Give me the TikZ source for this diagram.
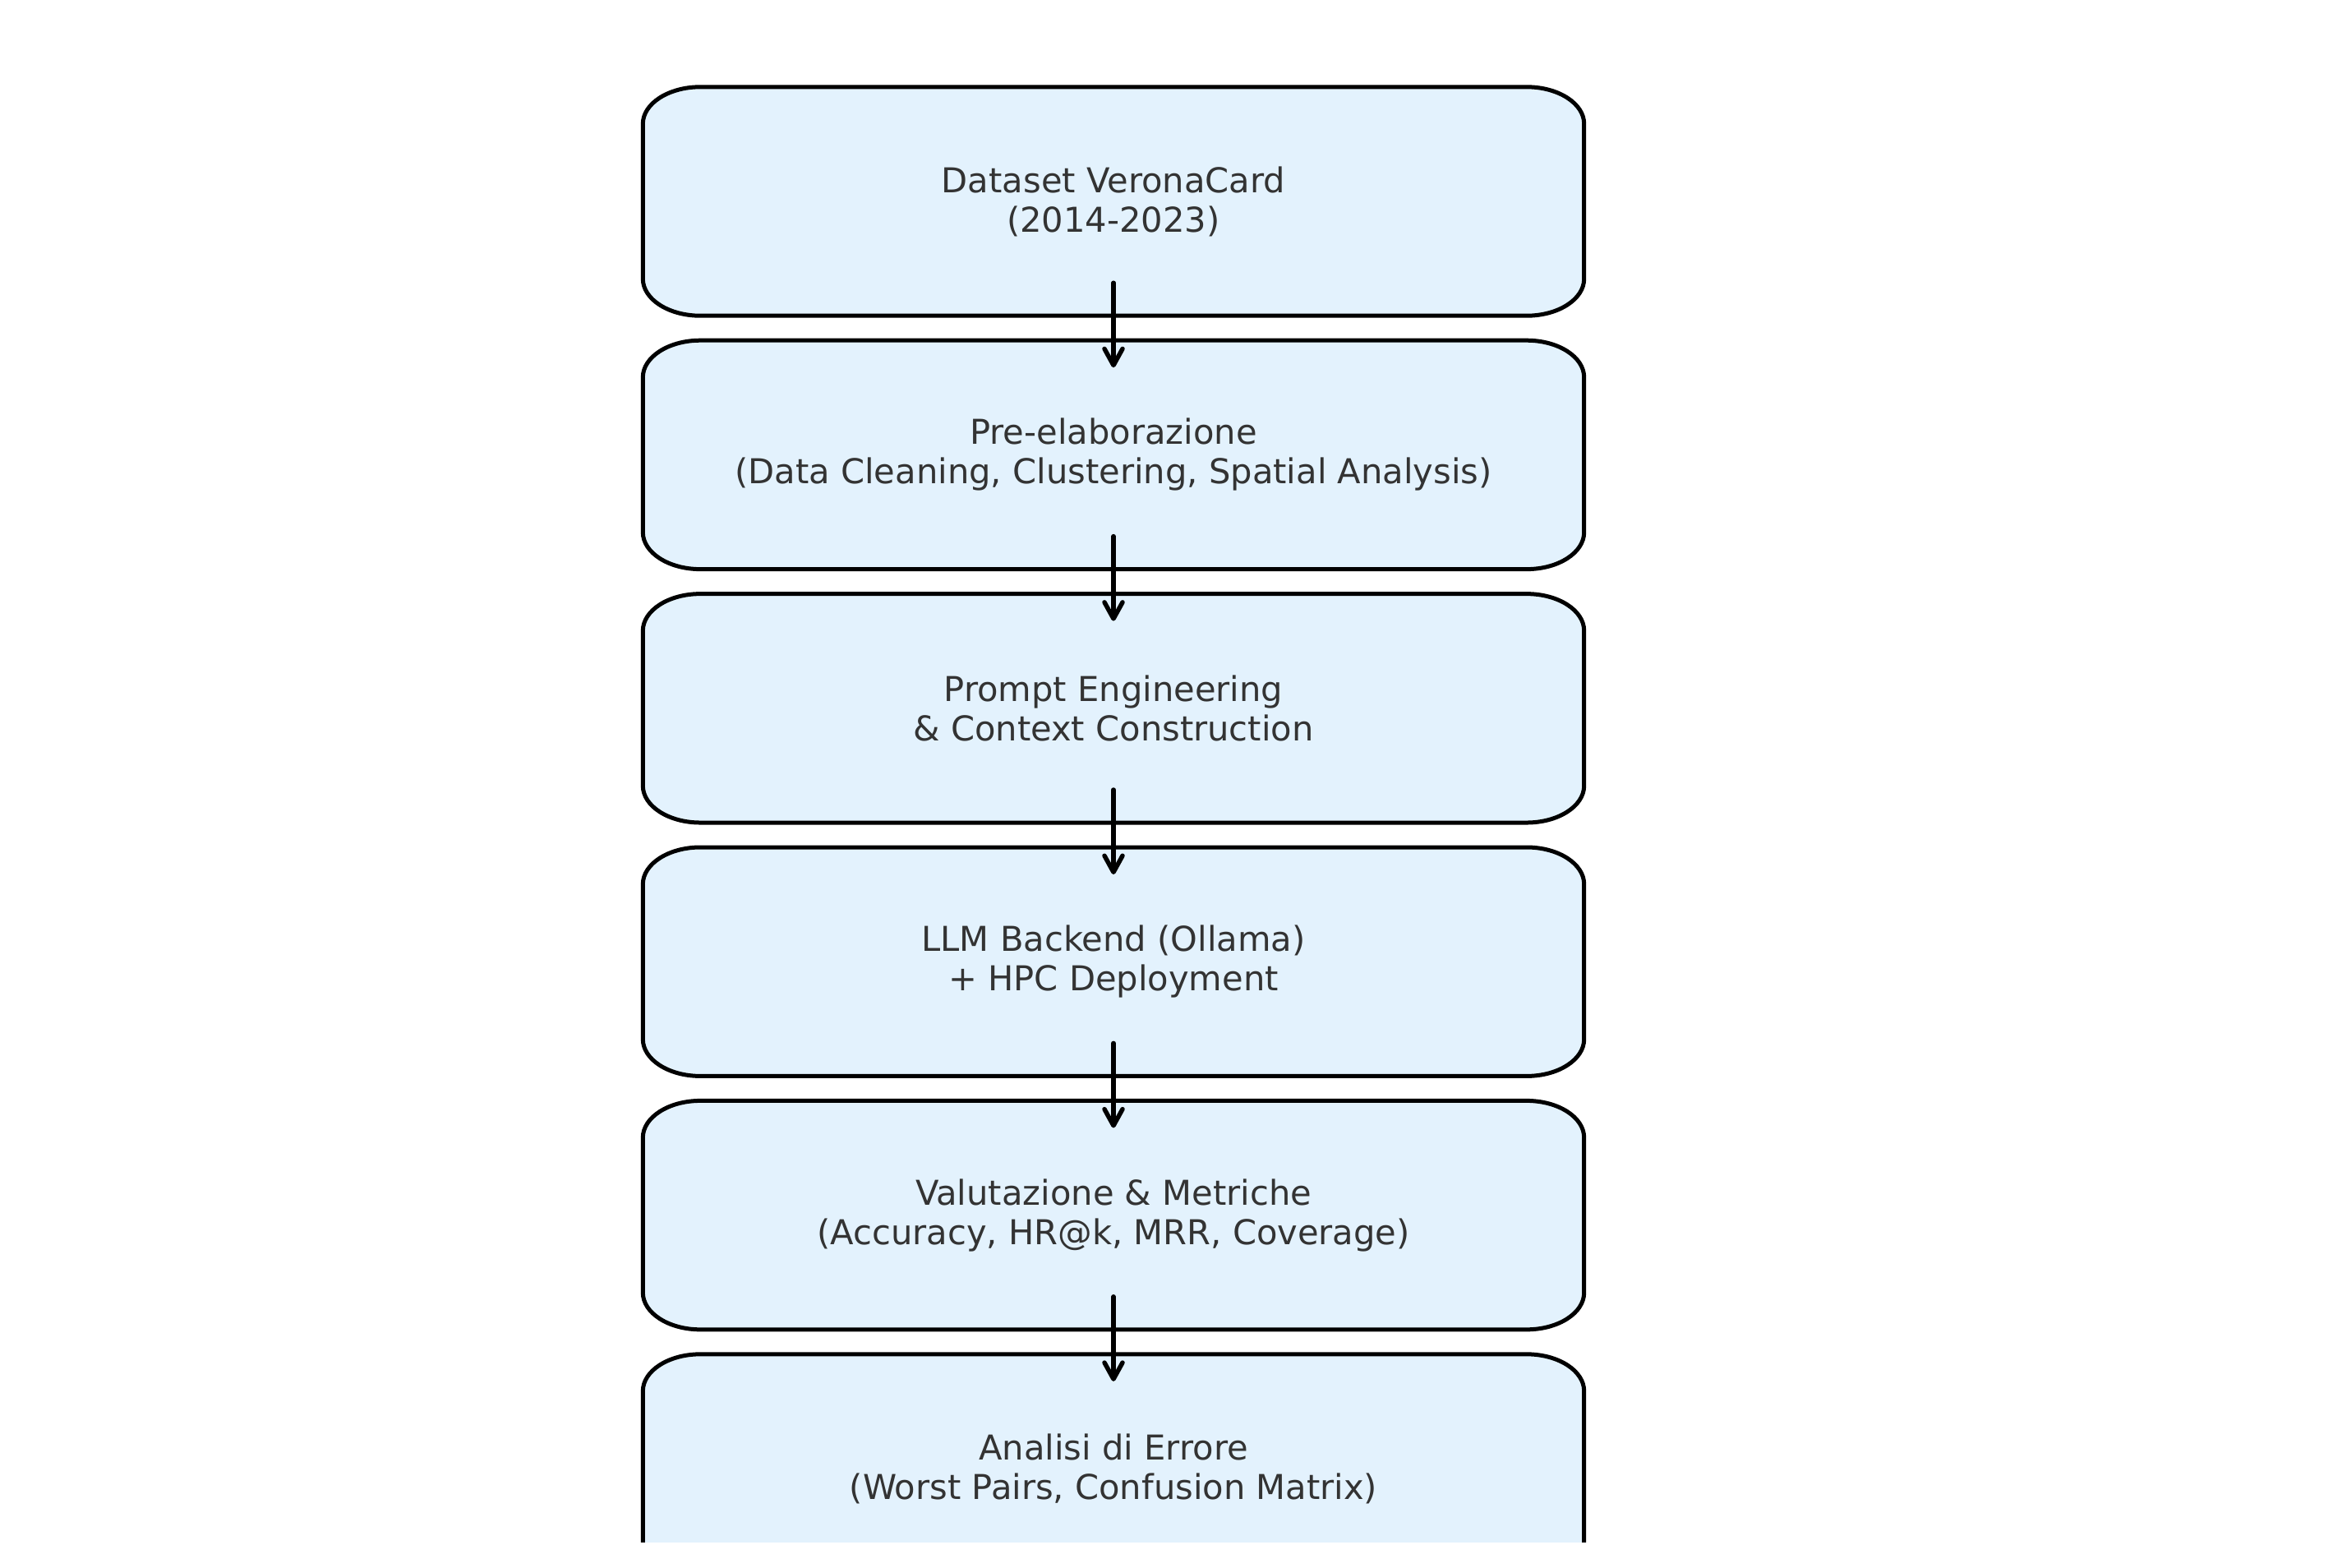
\documentclass[tikz,border=0pt]{standalone}
\usepackage{fontspec}
\setmainfont{DejaVu Sans}
\usetikzlibrary{arrows.meta, backgrounds}
\definecolor{boxfill}{HTML}{E3F2FD}
\definecolor{txtgray}{HTML}{333333}
\begin{document}
\begin{tikzpicture}

\tikzset{stage/.style = {minimum width=11.44cm, minimum height=2.77cm, inner sep=0pt, align=center, text=txtgray, font=\fontsize{11.85pt}{13.7pt}\selectfont}}
\tikzset{boxline/.style = {draw=black, fill=boxfill, line width=0.05cm}}
\tikzset{flow/.style = {-{Straight Barb[length=0.2cm,width=0.22cm,round]}, line width=0.055cm, line cap=round}}
\def\cornerx{0.7cm}
\def\cornery{0.45cm}

\useasboundingbox (0,0) rectangle (28.5,-19.07);
\clip (0,0) rectangle (28.5,-18.76);

%stages
\node[stage] (1) at (13.55,-2.45) {Dataset VeronaCard\\(2014-2023)};
\node[stage] (2) at (13.55,-5.534) {Pre-elaborazione\\(Data Cleaning, Clustering, Spatial Analysis)};
\node[stage] (3) at (13.55,-8.618) {Prompt Engineering\\\& Context Construction};
\node[stage] (4) at (13.55,-11.702) {LLM Backend (Ollama)\\+ HPC Deployment};
\node[stage] (5) at (13.55,-14.786) {Valutazione \& Metriche\\(Accuracy, HR@k, MRR, Coverage)};
\node[stage] (6) at (13.55,-17.87) {Analisi di Errore\\(Worst Pairs, Confusion Matrix)};

%boxes
\begin{scope}[on background layer]
\clip (0,0) rectangle (28.5,-18.76);
\foreach \n in {1,...,6}
  \draw[boxline] ([xshift=\cornerx]\n.north west) -- ([xshift=-\cornerx]\n.north east)
    arc[start angle=90, end angle=0, x radius=\cornerx, y radius=\cornery]
    -- ([yshift=\cornery]\n.south east)
    arc[start angle=0, end angle=-90, x radius=\cornerx, y radius=\cornery]
    -- ([xshift=\cornerx]\n.south west)
    arc[start angle=270, end angle=180, x radius=\cornerx, y radius=\cornery]
    -- ([yshift=-\cornery]\n.north west)
    arc[start angle=180, end angle=90, x radius=\cornerx, y radius=\cornery]
    -- cycle;
\end{scope}

%arrows
\foreach \a/\b in {1/2,2/3,3/4,4/5,5/6}
  \draw[flow] ([yshift=0.40cm]\a.south) -- ([yshift=-0.33cm]\b.north);

\end{tikzpicture}
\end{document}
